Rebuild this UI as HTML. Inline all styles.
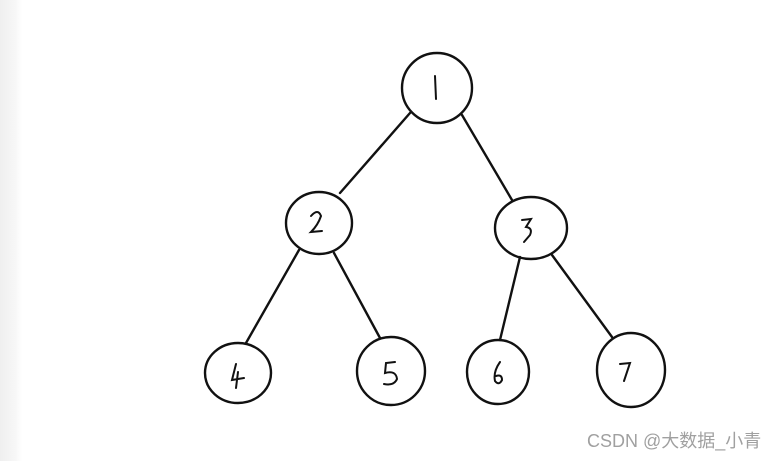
<!DOCTYPE html>
<html><head><style>
html,body{margin:0;padding:0;background:#fff;}
body{width:783px;height:461px;overflow:hidden;position:relative;}
.strip{position:absolute;left:0;top:0;width:22px;height:461px;background:linear-gradient(to right,#efefef,#f7f7f7 70%,#fff);}
.wm{position:absolute;left:587px;top:427px;font:18px "Liberation Sans","Noto Sans CJK SC",sans-serif;color:#a0a0a0;white-space:nowrap;}
</style></head><body>
<div class="strip"></div>
<svg width="783" height="461" style="position:absolute;left:0;top:0" fill="none" stroke="#111" stroke-width="2.4" stroke-linecap="round">
<line x1="410" y1="113" x2="340" y2="193"/>
<line x1="462" y1="115" x2="512" y2="200"/>
<line x1="299" y1="250" x2="246" y2="343"/>
<line x1="334" y1="253" x2="380" y2="338"/>
<line x1="520" y1="257" x2="500" y2="340"/>
<line x1="552" y1="255" x2="612" y2="337"/>
<ellipse cx="437" cy="88" rx="35" ry="35"/>
<ellipse cx="319" cy="223" rx="33" ry="31"/>
<ellipse cx="531" cy="228" rx="36" ry="31"/>
<ellipse cx="238" cy="373" rx="33" ry="30"/>
<ellipse cx="391" cy="371" rx="34" ry="34"/>
<ellipse cx="498" cy="372" rx="31" ry="32"/>
<ellipse cx="631" cy="370" rx="34" ry="37"/>
<g stroke-width="2">
<path d="M435 76 L436 99"/>
<path d="M311 216 Q318 208 321 216 Q318 225 311 232 L322 231"/>
<path d="M522 220 L531 219 L526 227 Q533 228 530 235 L524 242"/>
<path d="M236 364 L232 380 L244 378 M238 372 L236 388"/>
<path d="M395 362 L386 363 L385 373 Q396 370 397 379 Q394 386 384 384"/>
<path d="M500 362 Q493 372 495 381 Q499 386 502 380 Q502 374 496 376"/>
<path d="M620 364 L630 363 L624 381"/>
</g>
</svg>
<div class="wm">CSDN @大数据_小青</div>
</body></html>
